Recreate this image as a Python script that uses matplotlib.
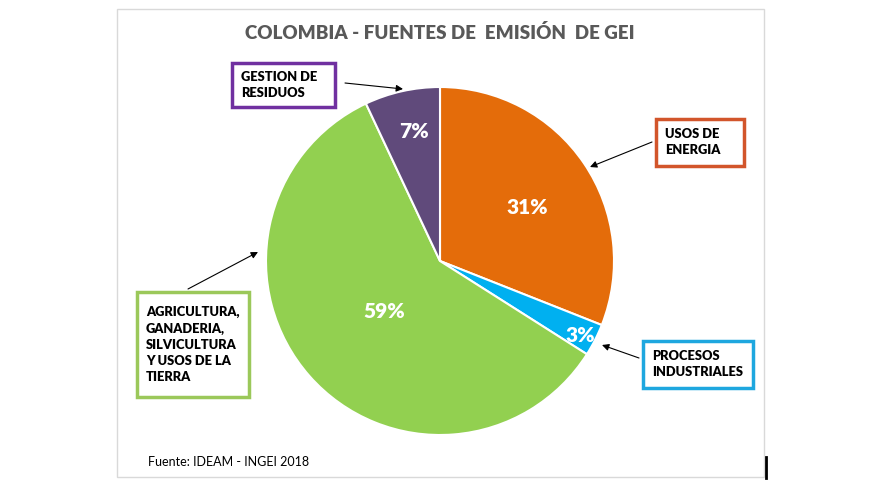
import matplotlib.pyplot as plt
from matplotlib.patches import Rectangle

plt.rcParams['font.family'] = ['Lato', 'DejaVu Sans']

# datos INGEI 2018
sectores = ['USOS DE\nENERGIA', 'PROCESOS\nINDUSTRIALES',
            'AGRICULTURA,\nGANADERIA,\nSILVICULTURA\nY USOS DE LA\nTIERRA',
            'GESTION DE\nRESIDUOS']
porcentajes = [31, 3, 59, 7]
colores = ['#E46C0A', '#00B0F0', '#92D050', '#604A7B']
bordes = ['#D2552B', '#1EA7DF', '#9BC85A', '#7030A0']

W, H = 884, 496


def py(y):
    # pixel de arriba hacia abajo -> coordenada del eje
    return H - y


fig = plt.figure(figsize=(W / 100, H / 100), dpi=100)
ax = fig.add_axes([0, 0, 1, 1])

# marco del grafico
ax.add_patch(Rectangle((117, py(477)), 764 - 117, 477 - 9, fill=False,
                       edgecolor='#D9D9D9', linewidth=1))
ax.plot([766, 766], [py(457), py(478)], color='black', linewidth=2)

wedges, textos = ax.pie(porcentajes, colors=colores, startangle=90, counterclock=False,
                        center=(440, py(261)), radius=174, frame=True,
                        wedgeprops=dict(edgecolor='white', linewidth=1.5))
ax.set_xlim(0, W)
ax.set_ylim(0, H)
ax.set_aspect('equal')
ax.axis('off')

# etiquetas de porcentaje
pos_pct = [(527, 208), (580, 335), (384, 311), (414, 131)]
for p, (x, y) in zip(porcentajes, pos_pct):
    ax.text(x, py(y), f'{p}%', color='white', fontsize=15, fontweight='heavy',
            ha='center', va='center')

ax.text(440, py(33), 'COLOMBIA - FUENTES DE  EMISIÓN  DE GEI', color='#595959',
        fontsize=13.5, fontweight='heavy', ha='center', va='center')
ax.text(148, py(462), 'Fuente: IDEAM - INGEI 2018', fontsize=9, color='black',
        ha='left', va='center')

# cajas de texto
cajas = [(656, 119, 744, 166), (643, 341, 753, 388), (137, 292, 249, 397), (232, 63, 335, 107)]
for (x0, y0, x1, y1), txt, bc in zip(cajas, sectores, bordes):
    ax.add_patch(Rectangle((x0, py(y1)), x1 - x0, y1 - y0, facecolor='white',
                           edgecolor=bc, linewidth=2.5))
    ax.text(x0 + 9, py((y0 + y1) / 2), txt, fontsize=9.3, fontweight='heavy',
            ha='left', va='center', linespacing=1.4)

# flechas
flechas = [((652, 142), (590, 167)), ((639, 358), (602, 345)),
           ((188, 289), (258, 252)), ((345, 83), (403, 89))]
for (xa, ya), (xb, yb) in flechas:
    ax.annotate('', xy=(xb, py(yb)), xytext=(xa, py(ya)),
                arrowprops=dict(arrowstyle='-|>', color='black', lw=0.8,
                                mutation_scale=10, shrinkA=0, shrinkB=0))

fig.savefig('out.png', dpi=100, facecolor='white')
